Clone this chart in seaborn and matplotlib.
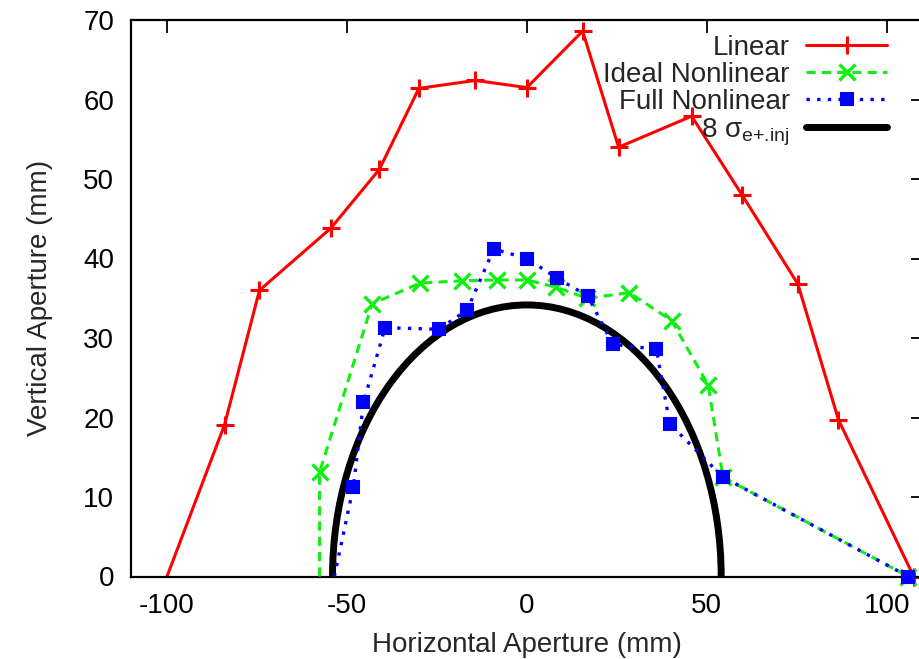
import matplotlib
matplotlib.use("Agg")
import matplotlib.pyplot as plt
from matplotlib.patches import Ellipse
from matplotlib.lines import Line2D
import seaborn as sns

# --- values (mm) ---
linear_x = [-100, -84, -74.3, -54.5, -41, -30, -14.3, 0, 15.5, 25.5, 45.8, 59.8, 75.3, 86.6, 107.5]
linear_y = [0, 19.1, 36.0, 43.8, 51.2, 61.4, 62.4, 61.5, 68.6, 54.0, 57.9, 48.0, 36.8, 19.7, 0]

ideal_x = [-57.6, -57.6, -43, -29.7, -18, -8.2, 0, 8, 16.8, 28.5, 40.2, 50.4, 54.5, 106]
ideal_y = [0, 13.1, 34.3, 36.9, 37.2, 37.3, 37.3, 36.4, 35.0, 35.7, 32.2, 24.1, 12.5, 0]

full_x = [-53.5, -48.2, -45.4, -39.4, -24.5, -16.6, -9.2, 0, 8.5, 16.9, 23.9, 36, 39.7, 54.5, 106]
full_y = [0, 11.3, 21.9, 31.3, 31.1, 33.5, 41.2, 40.0, 37.5, 35.3, 29.2, 28.6, 19.2, 12.5, 0]

# injected beam size, the black curve is the n_sigma envelope
n_sigma = 8
sigma_x = 6.75
sigma_y = 4.27

x_ticks = [-100, -50, 0, 50, 100]
y_ticks = [0, 10, 20, 30, 40, 50, 60, 70]

labels = ["Linear", "Ideal Nonlinear", "Full Nonlinear", "8 σ$_{\\rm e{+}.\\!inj}$"]

sns.set_style("white")
plt.rcParams["font.family"] = ["Liberation Sans", "DejaVu Sans"]
plt.rcParams["mathtext.fontset"] = "custom"
plt.rcParams["mathtext.rm"] = "Liberation Sans"
plt.rcParams["mathtext.it"] = "Liberation Sans:italic"
plt.rcParams["axes.unicode_minus"] = False

fig = plt.figure(figsize=(9.2, 6.59), dpi=100)
ax = fig.add_axes([131 / 920, 82.5 / 659, 791.7 / 920, 556.5 / 659])

# beam envelope first so the markers sit on top of it
ax.add_patch(Ellipse((0, 0), 2 * n_sigma * sigma_x, 2 * n_sigma * sigma_y,
                     fill=False, ec="black", lw=5, zorder=1.5))

red, green, blue = "#ff0000", "#11ee11", "#0000ff"
skip_first = slice(1, None)  # the start points sit on the border, gnuplot clipped them

sns.lineplot(x=linear_x, y=linear_y, ax=ax, sort=False, estimator=None,
             color=red, lw=2.2, marker="+", markersize=13, mew=2.2, mec=red,
             markevery=skip_first, label=labels[0], clip_on=False, zorder=2)
sns.lineplot(x=ideal_x, y=ideal_y, ax=ax, sort=False, estimator=None,
             color=green, lw=2.2, marker="x", markersize=11, mew=2.4, mec=green,
             markevery=skip_first, label=labels[1], clip_on=False, zorder=3)
ax.lines[-1].set_linestyle((0, (3, 2)))
sns.lineplot(x=full_x, y=full_y, ax=ax, sort=False, estimator=None,
             color=blue, lw=2.4, marker="s", markersize=8, mew=1.5, mec=blue,
             markevery=skip_first, label=labels[2], clip_on=False, zorder=4)
ax.lines[-1].set_linestyle((0, (1, 2.2)))

ax.set_xlim(-110, 110)
ax.set_ylim(0, 70)
ax.set_xticks(x_ticks)
ax.set_yticks(y_ticks)
ax.tick_params(direction="in", length=9, width=1.3, top=True, right=True,
               labelsize=20, pad=12, colors="black")
for sp in ax.spines.values():
    sp.set_linewidth(1.6)
    sp.set_color("black")

ax.set_xlabel("Horizontal Aperture (mm)", fontsize=20, labelpad=9)
ax.set_ylabel("Vertical Aperture (mm)", fontsize=20, labelpad=22)

handles, _ = ax.get_legend_handles_labels()
handles.append(Line2D([], [], color="black", lw=5))
leg = ax.legend(handles=handles, labels=labels, loc="upper right", frameon=False,
                markerfirst=False, fontsize=20, handlelength=2.9, handletextpad=0.6,
                labelspacing=0.04, borderpad=0, borderaxespad=0,
                bbox_to_anchor=(887 / 920, 1 - 35 / 659), bbox_transform=fig.transFigure)
for h in leg.legend_handles[:3]:
    h.set_markevery([1])

fig.savefig("out.png", dpi=100)
